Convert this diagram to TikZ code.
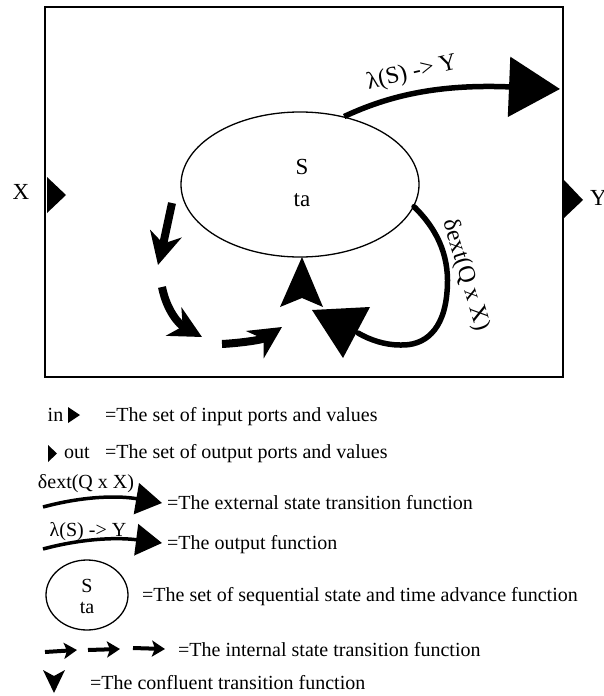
\documentclass[tikz,border=0pt]{standalone}
\usepackage{fontspec}
\setmainfont{Liberation Serif}
\usetikzlibrary{arrows.meta,shapes.geometric}
\begin{document}
\begin{tikzpicture}[x=1pt,y=-1pt,
  lbl/.style={inner sep=0pt,font=\fontsize{20}{24}\selectfont},
  big/.style={inner sep=0pt,font=\fontsize{23}{27}\selectfont},
  tag/.style={inner sep=0pt,font=\fontsize{24}{28}\selectfont},
  flow/.style={line width=5.5pt},
  inttr/.style={line width=8pt,-{Stealth[length=32pt,width=32pt,inset=10pt]}},
  smallint/.style={line width=4pt,-{Stealth[length=13pt,width=16pt,inset=3pt]}},
  legflow/.style={line width=3.5pt,-{Triangle[length=26pt,width=31pt]}}
]
\useasboundingbox (0,0) rectangle (603,696);
\clip (0,0) rectangle (603,696);

% ---------- model box ----------
\draw[line width=2pt] (45,7) rectangle (563,377);

% ports
\coordinate (inA) at (47,177); \coordinate (inB) at (66,195); \coordinate (inC) at (47,213);
\fill (inA) -- (inB) -- (inC) -- cycle;
\coordinate (outA) at (564,180); \coordinate (outB) at (583,200); \coordinate (outC) at (564,218);
\fill (outA) -- (outB) -- (outC) -- cycle;
\node[big] (xlab) at (21,192) {X};
\node[big,anchor=west] (ylab) at (590,198) {Y};

% state ellipse
\node[ellipse,draw,line width=1.3pt,minimum width=238pt,minimum height=145pt,inner sep=0pt]
  (S) at (300,184.5) {};
\node[big] (stxt) at (302,167) {S};
\node[big] (tatxt) at (302,200) {ta};

% output function
\coordinate (lamtip) at (560,89);
\draw[flow,-{Triangle[length=51pt,width=59pt]}]
  (S.57) .. controls (390,95) and (440,84) .. (lamtip);
\node[tag,rotate=13] (lamlab) at (412,73) {λ(S) -> Y};

% external transition
\coordinate (extend) at (358,333);
\draw[flow,line cap=round]
  (S.-11) .. controls (440,232) and (450,260) .. (447,292)
  .. controls (444,330) and (425,346) .. (400,345)
  .. controls (385,345) and (370,340) .. (extend);
\node[tag,rotate=-73] (extlab) at (466,275) {δext(Q x X)};

% confluent transition
\coordinate (cfA) at (312,310); \coordinate (cfB) at (370,307); \coordinate (cfC) at (343,358);
\fill (cfA) -- (cfB) -- (cfC) -- cycle;

% internal transition (dashed sequence of arrows)
\draw[inttr] (172,203) .. controls (168,225) .. (158,265);
\draw[inttr] (162,287) .. controls (167,312) and (180,325) .. (202,337);
\draw[inttr] (222,344) .. controls (240,343) and (262,340) .. (282,327);
\coordinate (upT) at (302,257); \coordinate (upL) at (280,307);
\coordinate (upN) at (302,298); \coordinate (upR) at (323,307);
\fill (upT) -- (upR) -- (upN) -- (upL) -- cycle;

% ---------- legend ----------
% input ports
\node[lbl,anchor=base] (lin) at (55.5,421) {in};
\fill (68,407) -- (80,415) -- (68,423) -- cycle;
\node[lbl,anchor=base west] (tin) at (105,421) {=The set of input ports and values};

% output ports
\fill (48,445) -- (57,453.5) -- (48,462) -- cycle;
\node[lbl,anchor=base west] (lout) at (64,458.5) {out};
\node[lbl,anchor=base west] (tout) at (105,458.5) {=The set of output ports and values};

% external transition
\node[lbl,anchor=base] (lext) at (86,488.5) {δext(Q x X)};
\coordinate (extS) at (43,507); \coordinate (extT) at (162,503);
\draw[legflow] (extS) .. controls (80,497) and (115,495) .. (extT);
\node[lbl,anchor=base west] (text) at (167,509) {=The external state transition function};

% output function
\node[lbl,anchor=base] (llam) at (88,536.5) {λ(S) -> Y};
\coordinate (lamS) at (43,549); \coordinate (lamT) at (162,543);
\draw[legflow] (lamS) .. controls (80,539) and (115,537) .. (lamT);
\node[lbl,anchor=base west] (tlam) at (167,549.5) {=The output function};

% state circle
\node[ellipse,draw,line width=1.3pt,minimum width=82pt,minimum height=70pt,inner sep=0pt]
  (Sl) at (87,595) {};
\node[lbl] (sltxt) at (87,586) {S};
\node[lbl] (tatxtl) at (87,608) {ta};
\node[lbl,anchor=base west] (tst) at (142,601.5) {=The set of sequential state and time advance function};

% internal transition
\draw[smallint] (45,652) -- (77,650);
\draw[smallint] (88,650) -- (120,649);
\draw[smallint] (133,648) -- (165,649);
\node[lbl,anchor=base west] (tint) at (178,656.5) {=The internal state transition function};

% confluent transition
\fill (43,670) -- (54,676) -- (65,670) -- (54,693) -- cycle;
\node[lbl,anchor=base west] (tcf) at (90,689.5) {=The confluent transition function};
\end{tikzpicture}
\end{document}
